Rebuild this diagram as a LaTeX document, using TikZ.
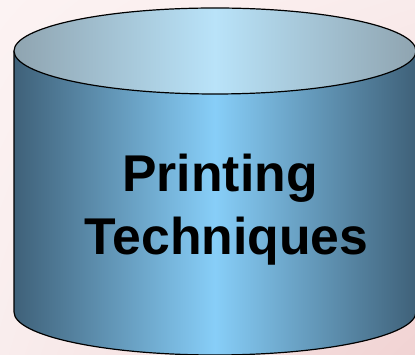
\documentclass[tikz,border=0pt]{standalone}
\usepackage{fontspec}
\setmainfont{Liberation Sans}
\usetikzlibrary{shadings}
\definecolor{bgUL}{HTML}{FCF3F3}
\definecolor{bgUR}{HTML}{F9EBEB}
\definecolor{bgLL}{HTML}{F9EDED}
\definecolor{bgLR}{HTML}{F1D3D3}
\definecolor{bodyEdge}{HTML}{3F6179}
\definecolor{bodyMid}{HTML}{87CEF8}
\definecolor{topEdge}{HTML}{8FA4B0}
\definecolor{topMid}{HTML}{B9E3F9}
\tikzset{
  outline/.style={draw=black, line width=1.2pt, line join=round},
  bodyshade/.style={left color=bodyEdge, right color=bodyEdge, middle color=bodyMid},
  topshade/.style={left color=topEdge, right color=topEdge, middle color=topMid},
  labeltext/.style={font=\bfseries\fontsize{51.7}{63}\selectfont, text=black, align=center, inner sep=0pt}
}
\begin{document}
\begin{tikzpicture}[x=1pt,y=1pt]
\useasboundingbox (0,0) rectangle (415,355);
\shade[upper left=bgUL, upper right=bgUR, lower left=bgLL, lower right=bgLR] (0,0) rectangle (415,355);
\coordinate (topc) at (215,304);
\coordinate (botc) at (215,43);
% body
\shade[bodyshade] (14,304) -- (14,43) arc[start angle=180,end angle=360,x radius=201,y radius=43] -- (416,304) arc[start angle=0,end angle=-180,x radius=201,y radius=43] -- cycle;
\draw[outline] (14,304) -- (14,43) arc[start angle=180,end angle=360,x radius=201,y radius=43] -- (416,304);
% top
\shade[topshade] (topc) ellipse[x radius=201,y radius=43];
\draw[outline] (topc) ellipse[x radius=201,y radius=43];
\node[labeltext, anchor=base] (label1) at (220,163) {Printing};
\node[labeltext, anchor=base] (label2) at (226.5,100) {Techniques};
\end{tikzpicture}
\end{document}
